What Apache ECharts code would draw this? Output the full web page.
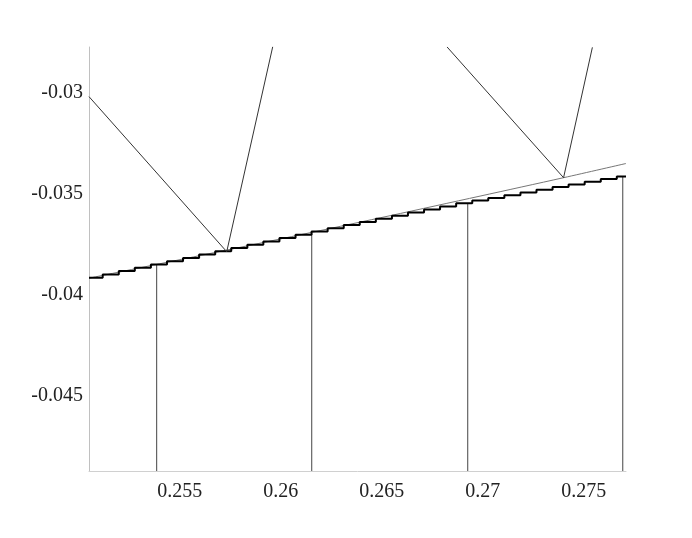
<!DOCTYPE html>
<html>
<head>
<meta charset="utf-8">
<script src="https://cdn.jsdelivr.net/npm/echarts@6/dist/echarts.min.js"></script>
<style>
  html, body { margin: 0; padding: 0; background: #fff; }
  #chart { width: 692px; height: 538px; }
</style>
</head>
<body>
<div id="chart"></div>
<script>
var xMin = 0.25051, xMax = 0.27709;
var yMin = -0.048723, yMax = -0.027733;
var xTicks = [0.255, 0.26, 0.265, 0.27, 0.275];
var yTicks = [-0.045, -0.04, -0.035, -0.03];

// staircase: x where each step rises, and the level after it
var stairX = [0.25051, 0.251188, 0.251985, 0.252777, 0.253574, 0.254371, 0.255163, 0.25596, 0.256757,
  0.25755, 0.258347, 0.259139, 0.259936, 0.260733, 0.261525, 0.262322, 0.263119, 0.263911,
  0.264708, 0.265505, 0.266297, 0.267094, 0.267886, 0.268683, 0.26948, 0.270272, 0.271069,
  0.271866, 0.272659, 0.273456, 0.274248, 0.275045, 0.275842, 0.276634, 0.27709];
var stairY = [-0.039153, -0.03899, -0.038827, -0.038663, -0.0385, -0.038337, -0.038173, -0.03801,
  -0.037847, -0.037683, -0.03752, -0.037357, -0.037193, -0.03703, -0.036866, -0.036708, -0.03655,
  -0.036391, -0.036238, -0.036084, -0.035931, -0.035777, -0.035624, -0.03547, -0.035337, -0.035203,
  -0.035069, -0.034936, -0.034802, -0.034668, -0.034535, -0.034401, -0.034272, -0.034144, -0.034144];

// thin smooth curve
var curveX = [0.25051, 0.257327, 0.261535, 0.265411, 0.269866, 0.274, 0.27709];
var curveY = [-0.039178, -0.037787, -0.03691, -0.036084, -0.035114, -0.034203, -0.0335];

// vertical drops from the axis up to the staircase
var dropX = [0.25386, 0.261535, 0.269257, 0.27693];
var dropY = [-0.038475, -0.036955, -0.03547, -0.034153];

// the two zig-zag paths
var zigAX = [0.25051, 0.257327, 0.259604];
var zigAY = [-0.03019, -0.037866, -0.027718];
var zigBX = [0.268233, 0.274, 0.275426];
var zigBY = [-0.02773, -0.034203, -0.02775];

function pairs(xs, ys) {
  return xs.map(function (x, i) { return [x, ys[i]]; });
}

var series = [];
dropX.forEach(function (x, i) {
  series.push({
    type: 'line', symbol: 'none', silent: true,
    data: [[x, yMin], [x, dropY[i]]],
    lineStyle: { color: '#444', width: 1 }
  });
});
series.push({
  type: 'line', symbol: 'none', silent: true, smooth: 0.3,
  data: pairs(curveX, curveY),
  lineStyle: { color: '#777', width: 1 }
});
series.push({
  type: 'line', symbol: 'none', silent: true, step: 'end',
  data: pairs(stairX, stairY),
  lineStyle: { color: '#000', width: 2 }
});
series.push({
  type: 'line', symbol: 'none', silent: true,
  data: pairs(zigAX, zigAY),
  lineStyle: { color: '#333', width: 1 }
});
series.push({
  type: 'line', symbol: 'none', silent: true,
  data: pairs(zigBX, zigBY),
  lineStyle: { color: '#333', width: 1 }
});

var labelFont = { fontFamily: '"Liberation Serif", serif', fontSize: 20, color: '#222' };

var myChart = echarts.init(document.getElementById('chart'), null, { renderer: 'canvas' });
myChart.setOption({
  animation: false,
  backgroundColor: '#fff',
  grid: { left: 89, top: 47, right: 66, bottom: 67, containLabel: false },
  xAxis: {
    type: 'value', min: xMin, max: xMax,
    splitLine: { show: false },
    axisTick: { show: false },
    axisLine: { show: true, lineStyle: { color: '#d0d0d0', width: 1 } },
    axisLabel: Object.assign({
      margin: 11,
      customValues: xTicks,
      formatter: function (v) { return String(+v.toFixed(4)); }
    }, labelFont)
  },
  yAxis: {
    type: 'value', min: yMin, max: yMax,
    splitLine: { show: false },
    axisTick: { show: false },
    axisLine: { show: true, lineStyle: { color: '#c0c0c0', width: 1 } },
    axisLabel: Object.assign({
      margin: 6,
      customValues: yTicks,
      formatter: function (v) { return String(+v.toFixed(4)); }
    }, labelFont)
  },
  series: series
});
</script>
</body>
</html>
